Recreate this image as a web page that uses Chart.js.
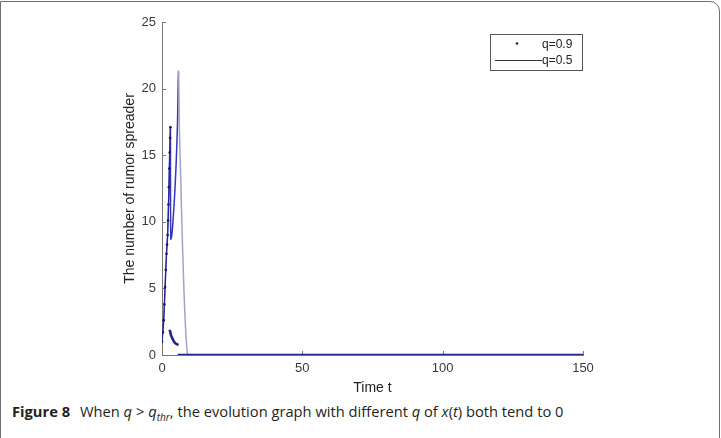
<!DOCTYPE html>
<html>
<head>
<meta charset="utf-8">
<script src="https://cdn.jsdelivr.net/npm/chart.js@4.4.1/dist/chart.umd.min.js"></script>
<style>
  html, body { margin: 0; padding: 0; background: #fff; }
  #frame { position: absolute; left: 0; top: 1px; width: 720px; height: 440px; box-sizing: border-box;
           border: 1.5px solid #6e6e6e; border-top-right-radius: 10px; }
  #wrap { position: absolute; left: 0; top: 0; width: 721px; height: 400px; }
  #caption { position: absolute; left: 12px; top: 402px; font-family: 'Open Sans', sans-serif; font-size: 14.5px;
             color: #231f20; white-space: nowrap; transform-origin: 0 0; }
  #caption b { font-weight: 700; margin-right: 6px; }
</style>
</head>
<body>
<div id="frame"></div>
<div id="wrap"><canvas id="chart" width="721" height="400"></canvas></div>
<div id="caption"><b>Figure 8</b> When <i>q</i> &gt; <i>q</i><sub style="font-size:10px"><i>thr</i></sub>, the evolution graph with different <i>q</i> of <i>x</i>(<i>t</i>) both tend to 0</div>
<script>
// q = 0.9 (dots): fast rise, then a short tail, then flat at zero
const q09RiseT = [0, 0.3, 0.6, 0.85, 1.1, 1.35, 1.6, 1.8, 2.0, 2.15, 2.3, 2.45, 2.6, 2.75, 2.9, 3.0];
const q09RiseV = [1.0, 1.7, 2.6, 3.8, 5.1, 6.4, 7.6, 8.3, 9.0, 10.1, 11.3, 12.6, 14.0, 15.2, 16.3, 17.1];
const q09TailT = [2.75, 3.2, 3.7, 4.3, 5.0, 5.9];
const q09TailV = [1.9, 1.5, 1.25, 1.0, 0.85, 0.75];
const q09ZeroT = [5.6, 150];
const q09ZeroV = [0, 0];

// q = 0.5 (line)
const q05T = [0, 0.6, 1.1, 1.6, 2.0, 2.4, 2.75, 3.0, 3.1, 3.5, 4.0, 4.5, 5.0, 5.5, 5.9, 6.2, 6.7, 7.2, 7.8, 8.4, 9.0, 9.5, 150];
const q05V = [1.0, 2.6, 5.1, 7.6, 9.0, 11.9, 15.2, 17.1, 8.7, 9.0, 10.3, 12.0, 14.2, 17.2, 21.3, 17.0, 13.0, 9.0, 5.0, 2.0, 0.2, 0, 0];

const xTicks = [0, 50, 100, 150];
const yTicks = [0, 5, 10, 15, 20, 25];
const seriesLabels = ['q=0.9', 'q=0.5'];

const pts = (ts, vs) => ts.map((t, i) => ({ x: t, y: vs[i] }));
const riseCount = q09RiseT.length;
const q09Data = [
  ...pts(q09RiseT, q09RiseV),
  { x: 3.0, y: null },
  ...pts(q09TailT, q09TailV),
  { x: 6.0, y: null },
  ...pts(q09ZeroT, q09ZeroV),
];

const navy = '#23238a';
const blue = '#3434c0';
const lavender = '#a2a2cc';
const font = '"Liberation Sans", Arial, sans-serif';

// MATLAB style tick marks pointing into the plot
const inwardTicks = {
  id: 'inwardTicks',
  beforeDatasetsDraw(chart) {
    const { ctx, scales: { x, y } } = chart;
    ctx.save();
    ctx.strokeStyle = '#777';
    ctx.lineWidth = 1;
    xTicks.forEach(v => {
      const px = Math.round(x.getPixelForValue(v)) + 0.5;
      ctx.beginPath(); ctx.moveTo(px, y.bottom); ctx.lineTo(px, y.bottom - 4); ctx.stroke();
    });
    yTicks.forEach(v => {
      const py = Math.round(y.getPixelForValue(v)) + 0.5;
      ctx.beginPath(); ctx.moveTo(x.left, py); ctx.lineTo(x.left + 4, py); ctx.stroke();
    });
    ctx.restore();
  }
};

// boxed legend in the upper right of the plot
const boxLegend = {
  id: 'boxLegend',
  afterDraw(chart) {
    const { ctx, chartArea } = chart;
    const left = chartArea.right - 93, top = chartArea.top + 12, w = 92, h = 36;
    ctx.save();
    ctx.fillStyle = '#fff';
    ctx.fillRect(left, top, w, h);
    ctx.strokeStyle = '#555';
    ctx.lineWidth = 1;
    ctx.strokeRect(left + 0.5, top + 0.5, w, h);
    ctx.font = '12px ' + font;
    ctx.fillStyle = '#222';
    ctx.textBaseline = 'middle';
    ctx.fillText(seriesLabels[0], left + 52, top + 10.5);
    ctx.fillText(seriesLabels[1], left + 52, top + 26.5);
    ctx.beginPath(); ctx.arc(left + 27, top + 9.5, 1.3, 0, Math.PI * 2); ctx.fill();
    ctx.strokeStyle = '#333';
    ctx.beginPath(); ctx.moveTo(left + 5, top + 26.5); ctx.lineTo(left + 52, top + 26.5); ctx.stroke();
    ctx.restore();
  }
};

new Chart(document.getElementById('chart'), {
  type: 'line',
  data: {
    datasets: [
      {
        label: seriesLabels[1],
        data: pts(q05T, q05V),
        borderColor: blue,
        borderWidth: 1.5,
        pointRadius: 0,
        tension: 0.3,
        segment: {
          borderColor: c => (c.p1.parsed.y < c.p0.parsed.y && c.p0.parsed.x > 5) ? lavender : blue
        },
        order: 2
      },
      {
        label: seriesLabels[0],
        data: q09Data,
        borderColor: navy,
        borderWidth: 2.6,
        pointRadius: c => c.dataIndex < riseCount ? 1.3 : 0,
        pointBackgroundColor: '#1a1a55',
        pointBorderWidth: 0,
        spanGaps: false,
        tension: 0.3,
        segment: {
          borderColor: c => c.p0DataIndex < riseCount - 1 ? 'rgba(30,30,90,0.8)' : navy,
          borderWidth: c => c.p0DataIndex < riseCount - 1 ? 0.8 : 2.6
        },
        order: 1
      }
    ]
  },
  options: {
    responsive: false,
    animation: false,
    layout: { padding: { left: 120, right: 138, top: 22, bottom: 0 } },
    plugins: { legend: { display: false }, tooltip: { enabled: false } },
    scales: {
      x: {
        type: 'linear', min: 0, max: 150,
        afterBuildTicks: s => { s.ticks = xTicks.map(v => ({ value: v })); },
        grid: { drawOnChartArea: false, drawTicks: false },
        border: { color: '#777', width: 1 },
        ticks: { color: '#3a3a3a', padding: 6, font: { family: font, size: 13 }, maxRotation: 0 },
        title: { display: true, text: 'Time t', color: '#222', padding: { top: 2, bottom: 3 },
                 font: { family: font, size: 14 } },
        afterFit: s => { s.height = 45; }
      },
      y: {
        min: 0, max: 25,
        afterBuildTicks: s => { s.ticks = yTicks.map(v => ({ value: v })); },
        grid: { drawOnChartArea: false, drawTicks: false },
        border: { color: '#777', width: 1 },
        ticks: { color: '#3a3a3a', padding: 6, font: { family: font, size: 13 } },
        title: { display: true, text: 'The number of rumor spreader', color: '#222', padding: { top: 2, bottom: 2 },
                 font: { family: font, size: 14 } },
        afterFit: s => { s.width = 42; }
      }
    }
  },
  plugins: [inwardTicks, boxLegend]
});

// squeeze caption to the width it has in the figure
const cap = document.getElementById('caption');
cap.style.transform = 'scaleX(' + (551 / cap.offsetWidth) + ')';
</script>
</body>
</html>
